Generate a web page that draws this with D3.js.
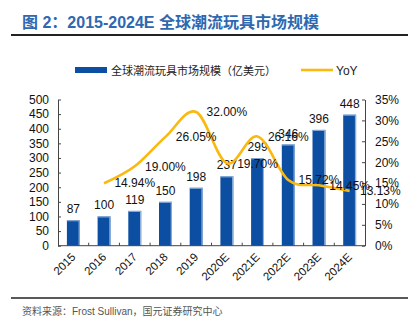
<!DOCTYPE html>
<html><head><meta charset="utf-8">
<script src="https://cdn.jsdelivr.net/npm/d3@7"></script>
<style>body{margin:0;background:#fff}svg{display:block}</style>
</head><body>
<svg id="c" width="408" height="321"></svg>
<script>
const categories = ["2015","2016","2017","2018","2019","2020E","2021E","2022E","2023E","2024E"];
const marketSize = [87,100,119,150,198,237,299,346,396,448];
const yoyCategories = ["2016","2017","2018","2019","2020E","2021E","2022E","2023E","2024E"];
const yoy = [14.94,19.00,26.05,32.00,19.70,26.16,15.72,14.45,13.13];
const leftTicks = [0,50,100,150,200,250,300,350,400,450,500];
const rightTicks = [0,5,10,15,20,25,30,35];
const title = "图 2：2015-2024E 全球潮流玩具市场规模";
const legendBar = "全球潮流玩具市场规模（亿美元）";
const legendLine = "YoY";
const source = "资料来源：Frost Sullivan，国元证券研究中心";

const svg = d3.select("#c");
const num = "'Liberation Sans', Arial, sans-serif";
const cjk = "'Noto Sans CJK SC', sans-serif";
const L = 58, R = 365, T = 99.5, B = 245.7;

// title
svg.append("text").attr("x", 22).attr("y", 28).attr("fill", "#2e68b0")
  .attr("font-family", num + ",'Noto Sans CJK SC'").attr("font-weight", "bold").attr("font-size", 16)
  .text(title);
svg.append("line").attr("x1", 11).attr("x2", 408).attr("y1", 35).attr("y2", 35)
  .attr("stroke", "#222").attr("stroke-width", 2);

const x = d3.scaleBand().domain(categories).range([L, R]).paddingInner(0.58).paddingOuter(0.29);
const xb = d3.scaleBand().domain(categories).range([L, R]);
const y = d3.scaleLinear().domain([0, 500]).range([B, T]);
const y2 = d3.scaleLinear().domain([0, 35]).range([B, T]);

// bars
const g = svg.append("g");
categories.forEach((c, i) => {
  g.append("rect").attr("x", x(c)).attr("y", y(marketSize[i]))
    .attr("width", x.bandwidth()).attr("height", B - y(marketSize[i])).attr("fill", "#0b4ea2");
  g.append("rect").attr("x", x(c) + x.bandwidth() - 1.2).attr("y", y(marketSize[i]))
    .attr("width", 1.2).attr("height", B - y(marketSize[i])).attr("fill", "#8fb0d8");
  g.append("rect").attr("x", x(c)).attr("y", y(marketSize[i]))
    .attr("width", x.bandwidth()).attr("height", 1).attr("fill", "#8fb0d8");
  g.append("text").attr("x", x(c) + x.bandwidth() / 2).attr("y", y(marketSize[i]) - 7)
    .attr("text-anchor", "middle").attr("font-family", num).attr("font-size", 12).attr("fill", "#111")
    .text(marketSize[i]);
});

// axes
const axisL = d3.axisLeft(y).tickValues(leftTicks).tickSizeInner(-3).tickSizeOuter(0).tickPadding(9);
const gl = svg.append("g").attr("transform", `translate(${L},0)`).call(axisL);
const axisR = d3.axisRight(y2).tickValues(rightTicks).tickFormat(d => d + "%").tickSizeInner(-3).tickSizeOuter(0).tickPadding(10);
const gr = svg.append("g").attr("transform", `translate(${R},0)`).call(axisR);
const gb = svg.append("g").attr("transform", `translate(0,${B})`);
gb.append("line").attr("x1", L).attr("x2", R).attr("y1", 0).attr("y2", 0).attr("stroke", "#444");
categories.forEach((c, i) => {
  if (i > 0) gb.append("line").attr("x1", xb(c)).attr("x2", xb(c)).attr("y1", 0).attr("y2", -3).attr("stroke", "#444");
  gb.append("text").attr("transform", `translate(${xb(c) + xb.bandwidth() / 2 + 3},${12}) rotate(-45)`)
    .attr("text-anchor", "end").attr("font-family", num).attr("font-size", 11.5).attr("fill", "#111").text(c);
});
[gl, gr].forEach(a => {
  a.select(".domain").attr("stroke", "#444");
  a.selectAll(".tick line").attr("stroke", "#444");
  a.selectAll("text").attr("font-family", num).attr("font-size", 12).attr("fill", "#111");
});

// line
const cx = c => xb(c) + xb.bandwidth() / 2;
const line = d3.line().x((d, i) => cx(yoyCategories[i])).y(d => y2(d)).curve(d3.curveCatmullRom.alpha(0));
svg.append("path").datum(yoy).attr("d", line).attr("fill", "none")
  .attr("stroke", "#fbb80f").attr("stroke-width", 2.6);
yoy.forEach((v, i) => {
  const xi = cx(yoyCategories[i]) + xb.bandwidth();
  svg.append("text").attr("x", xi).attr("y", y2(v)).attr("dy", "0.35em")
    .attr("text-anchor", "middle").attr("font-family", num).attr("font-size", 12).attr("fill", "#111")
    .text(v.toFixed(2) + "%");
});

// legend
svg.append("rect").attr("x", 75).attr("y", 67).attr("width", 32).attr("height", 6).attr("fill", "#0b4ea2");
svg.append("text").attr("x", 111).attr("y", 74.5).attr("font-family", cjk).attr("font-size", 11)
  .attr("fill", "#222").text(legendBar);
svg.append("line").attr("x1", 301).attr("x2", 333).attr("y1", 70).attr("y2", 70)
  .attr("stroke", "#fbb80f").attr("stroke-width", 2.6);
svg.append("text").attr("x", 336).attr("y", 74.5).attr("font-family", num).attr("font-size", 12)
  .attr("fill", "#222").text(legendLine);

// footer
svg.append("line").attr("x1", 11).attr("x2", 408).attr("y1", 298).attr("y2", 298)
  .attr("stroke", "#222").attr("stroke-width", 1.5);
svg.append("text").attr("x", 22).attr("y", 315).attr("font-family", num + ",'Noto Sans CJK SC'")
  .attr("font-size", 10).attr("fill", "#555").text(source);
</script>
</body></html>
